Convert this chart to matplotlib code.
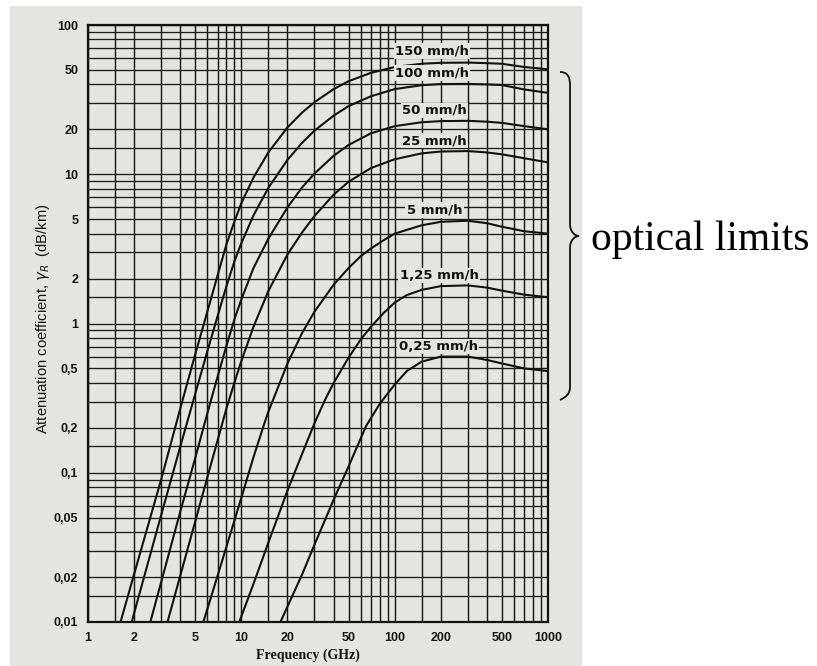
import matplotlib
matplotlib.use("Agg")
import matplotlib.pyplot as plt
from matplotlib.path import Path
from matplotlib.patches import PathPatch, Rectangle
from matplotlib.ticker import FixedLocator, FixedFormatter, NullFormatter

# ---- data ----
freq_150 = [1.63, 2, 3, 4, 5, 6, 7, 8, 9, 10, 12, 15, 20, 25, 30, 40, 50, 70, 100, 150, 200, 300, 400, 500, 700, 1000]
att_150 = [0.01, 0.021, 0.09, 0.27, 0.62, 1.2, 2.1, 3.4, 4.8, 6.4, 9.5, 14, 20.6, 26, 30.4, 37.2, 42, 47.8, 52.3, 55, 55.8, 56, 55.5, 55, 52.3, 50.5]

freq_100 = [1.93, 2, 3, 4, 5, 6, 7, 8, 9, 10, 12, 15, 20, 25, 30, 40, 50, 70, 100, 150, 200, 300, 400, 500, 700, 1000]
att_100 = [0.01, 0.0115, 0.052, 0.15, 0.337, 0.65, 1.12, 1.78, 2.6, 3.45, 5.3, 8.1, 12.5, 16.3, 19.6, 24.7, 28.6, 33.3, 37.2, 39.5, 40.2, 40.3, 40, 39.6, 37, 35.1]

freq_50 = [2.55, 3, 4, 5, 6, 7, 8, 9, 10, 12, 15, 20, 25, 30, 40, 50, 70, 100, 150, 200, 300, 400, 500, 700, 1000]
att_50 = [0.01, 0.0185, 0.055, 0.125, 0.25, 0.44, 0.71, 1.06, 1.45, 2.35, 3.7, 6.0, 8.2, 10.1, 13.3, 15.7, 18.8, 21, 22.3, 22.7, 22.8, 22.5, 22.1, 21, 20]

freq_25 = [3.3, 4, 5, 6, 7, 8, 9, 10, 12, 15, 20, 25, 30, 40, 50, 70, 100, 150, 200, 300, 400, 500, 700, 1000]
att_25 = [0.01, 0.0205, 0.047, 0.093, 0.165, 0.27, 0.4, 0.56, 0.95, 1.65, 2.9, 4.1, 5.25, 7.3, 8.9, 11.0, 12.6, 13.8, 14.2, 14.3, 14.0, 13.6, 12.8, 12.0]

freq_5 = [5.65, 6, 7, 8, 10, 12, 14, 15, 20, 25, 30, 40, 50, 60, 70, 85, 100, 150, 200, 300, 400, 500, 700, 1000]
att_5 = [0.01, 0.0122, 0.0204, 0.032, 0.068, 0.127, 0.208, 0.256, 0.54, 0.87, 1.2, 1.82, 2.35, 2.82, 3.18, 3.62, 4.0, 4.55, 4.8, 4.88, 4.7, 4.45, 4.15, 4.0]

freq_125 = [9.7, 10, 12, 15, 20, 25, 30, 35, 40, 50, 60, 70, 85, 100, 120, 150, 200, 300, 400, 500, 700, 1000]
att_125 = [0.01, 0.0109, 0.018, 0.034, 0.076, 0.135, 0.215, 0.305, 0.4, 0.59, 0.78, 0.95, 1.18, 1.38, 1.55, 1.68, 1.78, 1.8, 1.74, 1.66, 1.56, 1.5]

freq_025 = [18, 20, 25, 30, 40, 50, 65, 80, 100, 120, 150, 200, 300, 400, 500, 700, 1000]
att_025 = [0.01, 0.0127, 0.021, 0.033, 0.066, 0.11, 0.205, 0.29, 0.39, 0.48, 0.555, 0.6, 0.6, 0.57, 0.54, 0.5, 0.48]

curve_labels = ["150 mm/h", "100 mm/h", "50 mm/h", "25 mm/h", "5 mm/h", "1,25 mm/h", "0,25 mm/h"]

x_ticks = [1, 2, 5, 10, 20, 50, 100, 200, 500, 1000]
x_ticklabels = ["1", "2", "5", "10", "20", "50", "100", "200", "500", "1000"]
y_ticks = [0.01, 0.02, 0.05, 0.1, 0.2, 0.5, 1, 2, 5, 10, 20, 50, 100]
y_ticklabels = ["0,01", "0,02", "0,05", "0,1", "0,2", "0,5", "1", "2", "5", "10", "20", "50", "100"]
grid_mantissas = [1, 1.5, 2, 3, 4, 5, 6, 7, 8, 9]

# ---- figure ----
W, H = 817, 666
fig = plt.figure(figsize=(W / 100, H / 100), dpi=100)
fig.patch.set_facecolor("white")

paper = "#e4e4e2"
# scanned page background
fig.patches.append(Rectangle((10 / W, 0), (582 - 10) / W, (H - 6) / H,
                             transform=fig.transFigure, facecolor=paper,
                             edgecolor="none", zorder=-10))

left, right, top, bottom = 88, 548, 25, 622
ax = fig.add_axes([left / W, 1 - bottom / H, (right - left) / W, (bottom - top) / H])
ax.set_zorder(2)
ax.set_facecolor(paper)
ax.set_xscale("log")
ax.set_yscale("log")
ax.set_xlim(1, 1000)
ax.set_ylim(0.01, 100)

# grid lines
grid_x = [m * 10 ** d for d in range(0, 3) for m in grid_mantissas] + [1000]
grid_y = [m * 10 ** d for d in range(-2, 2) for m in grid_mantissas] + [100]
for gx in grid_x:
    ax.axvline(gx, color="#161616", lw=1.05, zorder=1)
for gy in grid_y:
    ax.axhline(gy, color="#1c1c1c", lw=0.95, zorder=1)

series = [(freq_150, att_150), (freq_100, att_100), (freq_50, att_50), (freq_25, att_25),
          (freq_5, att_5), (freq_125, att_125), (freq_025, att_025)]
for f, a in series:
    ax.plot(f, a, color="#111111", lw=1.5, zorder=3, solid_joinstyle="round")

# curve labels (positions in data coords, just above each curve's plateau)
label_pos = [(175, 67), (175, 47.5), (182, 26.8), (182, 16.8), (182, 5.75), (195, 2.1), (192, 0.7)]
for txt, (lx, ly) in zip(curve_labels, label_pos):
    ax.text(lx, ly, txt, ha="center", va="center", fontsize=9.5, fontweight="bold",
            family="DejaVu Sans", color="#111111", zorder=4,
            bbox=dict(boxstyle="square,pad=0.1", facecolor=paper, edgecolor="none"))

ax.xaxis.set_major_locator(FixedLocator(x_ticks))
ax.xaxis.set_major_formatter(FixedFormatter(x_ticklabels))
ax.xaxis.set_minor_formatter(NullFormatter())
ax.yaxis.set_major_locator(FixedLocator(y_ticks))
ax.yaxis.set_major_formatter(FixedFormatter(y_ticklabels))
ax.yaxis.set_minor_formatter(NullFormatter())
ax.tick_params(which="both", length=0)
ax.tick_params(axis="x", pad=7)
ax.tick_params(axis="y", pad=7)
for lab in ax.get_xticklabels() + ax.get_yticklabels():
    lab.set_fontweight("bold")
    lab.set_fontsize(9)
    lab.set_family("Liberation Sans")
    lab.set_color("#151515")
for sp in ax.spines.values():
    sp.set_linewidth(1.6)
    sp.set_color("#111111")

fig.text(43 / W, 1 - 319 / H, r"Attenuation coefficient, $\gamma_R$  (dB/km)", rotation=90,
         ha="center", va="center", fontsize=10.6, family="Liberation Sans", color="#151515")
fig.text(308 / W, 1 - 655 / H, "Frequency (GHz)", ha="center", va="center",
         fontsize=10, fontweight="bold", family="Liberation Serif", color="#151515")

# curly brace on the right
def P(x, y):
    return (x / W, 1 - y / H)

bx, tipx, ytop, ymid, ybot = 570, 579, 75, 236, 397
verts = [P(560, ytop - 3),
         P(566, ytop - 3), P(bx, ytop), P(bx, ytop + 10),
         P(bx, ymid - 12),
         P(bx, ymid - 4), P(tipx - 4, ymid), P(tipx, ymid),
         P(tipx - 4, ymid), P(bx, ymid + 4), P(bx, ymid + 12),
         P(bx, ybot - 10),
         P(bx, ybot - 3), P(566, ybot), P(560, ybot + 3)]
codes = [Path.MOVETO,
         Path.CURVE4, Path.CURVE4, Path.CURVE4,
         Path.LINETO,
         Path.CURVE4, Path.CURVE4, Path.CURVE4,
         Path.CURVE4, Path.CURVE4, Path.CURVE4,
         Path.LINETO,
         Path.CURVE4, Path.CURVE4, Path.CURVE4]
fig.patches.append(PathPatch(Path(verts, codes), transform=fig.transFigure,
                             facecolor="none", edgecolor="#111111", lw=1.3, zorder=5))

fig.text(591 / W, 1 - 240 / H, "optical limits", ha="left", va="center",
         fontsize=30, family="Liberation Serif", color="black")

fig.savefig("out.png", dpi=100)
